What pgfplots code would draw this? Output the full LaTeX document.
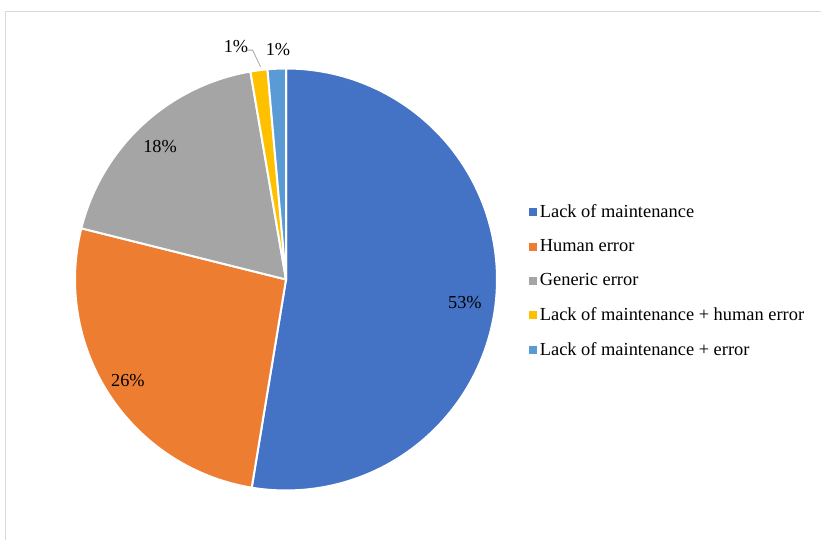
\documentclass[border=0pt]{standalone}
\usepackage{pgfplots}
\pgfplotsset{compat=1.18}
\usepackage{fontspec}
\setmainfont{Liberation Serif}
\definecolor{cA}{HTML}{4472C4}
\definecolor{cB}{HTML}{ED7D31}
\definecolor{cC}{HTML}{A5A5A5}
\definecolor{cD}{HTML}{FFC000}
\definecolor{cE}{HTML}{5B9BD5}
\definecolor{frame}{HTML}{D9D9D9}
% shares (percent)
\def\vA{52.6}\def\vB{26.3}\def\vC{18.4}\def\vD{1.3}\def\vE{1.4}
\pgfmathsetmacro\aA{90}
\pgfmathsetmacro\aB{\aA-3.6*\vA}
\pgfmathsetmacro\aC{\aB-3.6*\vB}
\pgfmathsetmacro\aD{\aC-3.6*\vC}
\pgfmathsetmacro\aE{\aD-3.6*\vD}
\pgfmathsetmacro\aF{\aE-3.6*\vE}
\begin{document}
\begin{tikzpicture}[x=1bp,y=1bp]
\path[use as bounding box] (0,0) rectangle (821,540);
\draw[frame, line width=1.2bp] (5.5,-10) -- (5.5,528.5) -- (840,528.5);
\begin{axis}[
  at={(286bp,260.5bp)}, anchor=origin,
  x=211bp, y=211bp,
  xmin=-1, xmax=1, ymin=-1, ymax=1,
  hide axis, clip=false,
  font=\fontsize{18.3bp}{22bp}\selectfont,
  legend style={at={(axis cs:1.152,0.365)}, anchor=north west, draw=none, fill=none,
    font=\fontsize{18.4bp}{22bp}\selectfont, row sep=16.5bp, inner sep=0pt,
    nodes={inner ysep=2bp, inner xsep=3.2bp}},
  legend cell align=left,
]
\addplot[forget plot, data cs=polar, fill=cA, draw=white, line width=2bp, domain=\aA:\aB, samples=120] {1} -- (axis cs:0,0) -- cycle;
\addplot[forget plot, data cs=polar, fill=cB, draw=white, line width=2bp, domain=\aB:\aC, samples=80] {1} -- (axis cs:0,0) -- cycle;
\addplot[forget plot, data cs=polar, fill=cC, draw=white, line width=2bp, domain=\aC:\aD, samples=60] {1} -- (axis cs:0,0) -- cycle;
\addplot[forget plot, data cs=polar, fill=cD, draw=white, line width=2bp, domain=\aD:\aE, samples=10] {1} -- (axis cs:0,0) -- cycle;
\addplot[forget plot, data cs=polar, fill=cE, draw=white, line width=2bp, domain=\aE:\aF, samples=10] {1} -- (axis cs:0,0) -- cycle;
\addlegendimage{legend image code/.code={\fill[cA] (0bp,-3.5bp) rectangle (7bp,3.5bp);}}
\addlegendentry{Lack of maintenance}
\addlegendimage{legend image code/.code={\fill[cB] (0bp,-3.5bp) rectangle (7bp,3.5bp);}}
\addlegendentry{Human error}
\addlegendimage{legend image code/.code={\fill[cC] (0bp,-3.5bp) rectangle (7bp,3.5bp);}}
\addlegendentry{Generic error}
\addlegendimage{legend image code/.code={\fill[cD] (0bp,-3.5bp) rectangle (7bp,3.5bp);}}
\addlegendentry{Lack of maintenance + human error}
\addlegendimage{legend image code/.code={\fill[cE] (0bp,-3.5bp) rectangle (7bp,3.5bp);}}
\addlegendentry{Lack of maintenance + error}
\node at (axis cs:0.848,-0.107) {53\%};
\node at (axis cs:-0.749,-0.481) {26\%};
\node at (axis cs:-0.597,0.628) {18\%};
\node at (axis cs:-0.237,1.102) {1\%};
\node at (axis cs:-0.038,1.088) {1\%};
\draw[gray!70, line width=0.8bp] (axis cs:-0.186,1.087) -- (axis cs:-0.158,1.087) -- (axis cs:-0.121,1.008);
\end{axis}
\end{tikzpicture}
\end{document}
